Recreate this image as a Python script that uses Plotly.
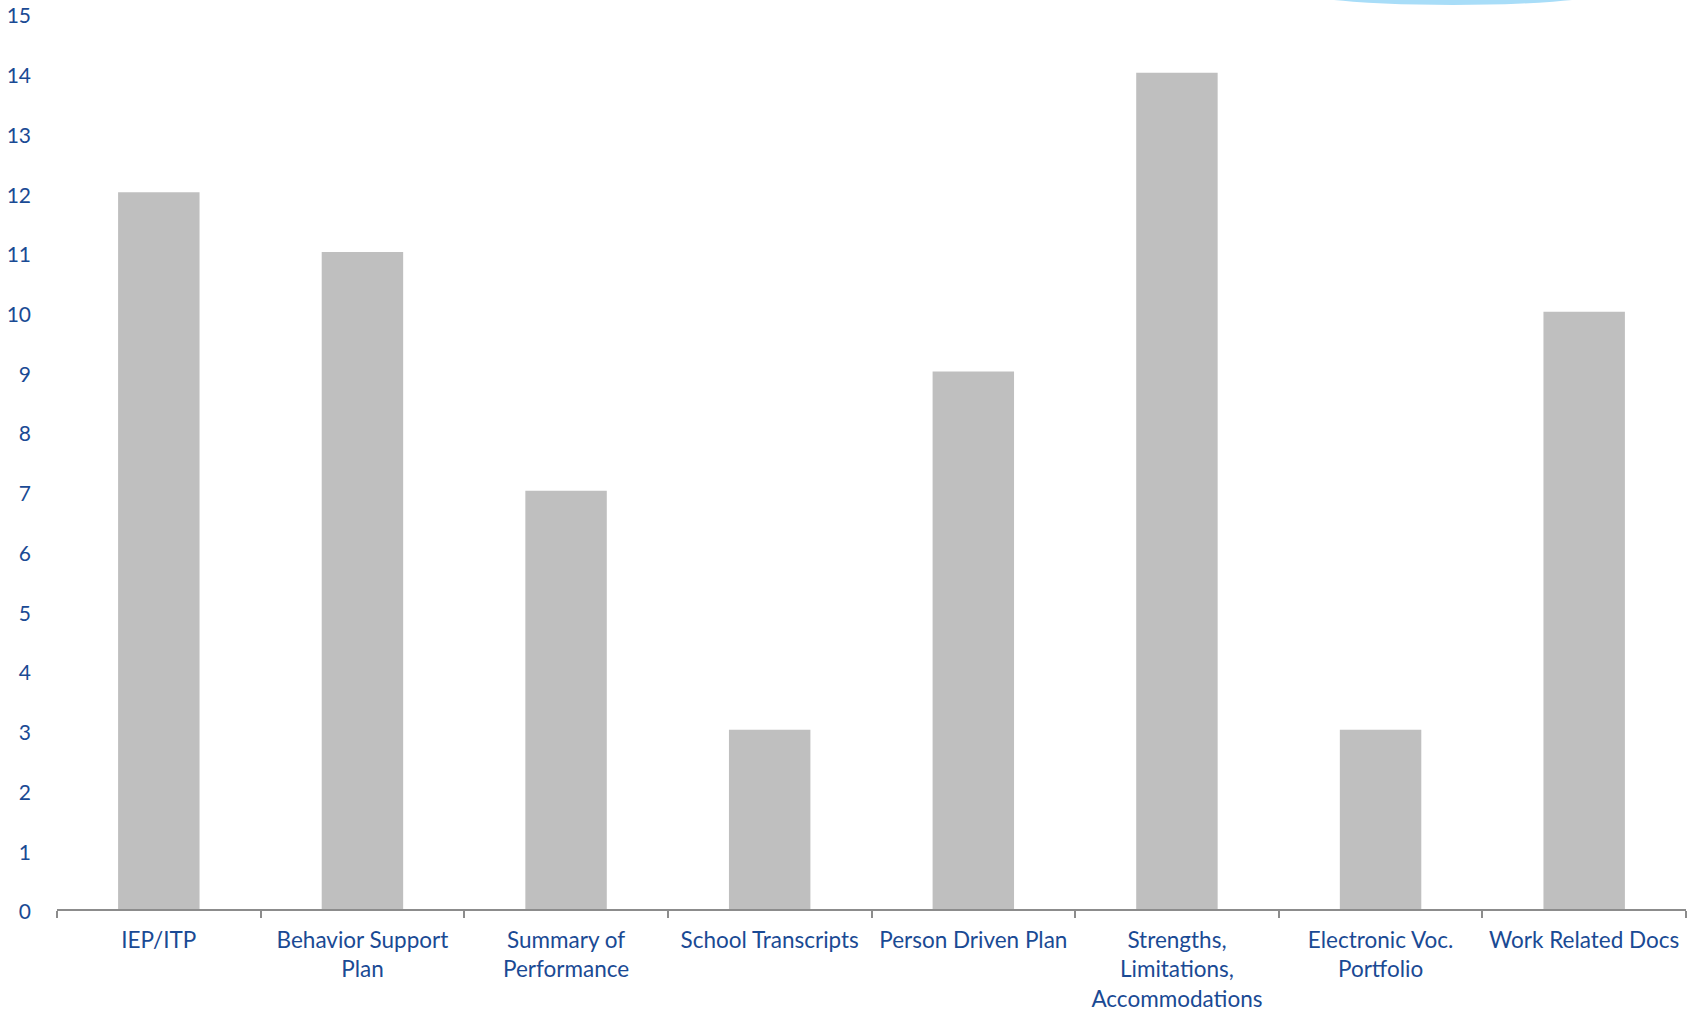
import plotly.graph_objects as go

categories = ["IEP/ITP", "Behavior Support<br>Plan", "Summary of<br>Performance",
              "School Transcripts", "Person Driven Plan",
              "Strengths,<br>Limitations,<br>Accommodations",
              "Electronic Voc.<br>Portfolio", "Work Related Docs"]
values = [12, 11, 7, 3, 9, 14, 3, 10]
y_ticks = list(range(0, 16))

W, H = 1694, 1012
L, R, T, B = 57, 8, 13, 103
pw, ph = W - L - R, H - T - B

def px_x(p):
    return (p - L) / pw

def px_y(p):
    return (H - B - p) / ph

text_color = "#1A4A94"
font = "Lato, 'Open Sans', sans-serif"

fig = go.Figure(go.Bar(x=categories, y=values, width=0.4, marker_color="#BFBFBF",
                       marker_line_width=0))

fig.update_layout(
    width=W, height=H,
    margin=dict(l=L, r=R, t=T, b=B, pad=0, autoexpand=False),
    plot_bgcolor="white", paper_bgcolor="white",
    showlegend=False,
    font=dict(family=font, color=text_color),
    shapes=[dict(type="circle", xref="paper", yref="paper",
                 x0=px_x(1273), x1=px_x(1633), y0=px_y(5), y1=px_y(-35),
                 fillcolor="#A8DDF8", line_width=0, layer="above")],
)
fig.update_xaxes(
    automargin=False, tickangle=0,
    showline=True, linecolor="#8C8C8C", linewidth=2,
    ticks="outside", tickson="boundaries", ticklen=7, tickcolor="#8C8C8C", tickwidth=2,
    ticklabelstandoff=10, ticklabeloverflow="allow",
    tickfont=dict(size=22.5, color=text_color, family=font),
    showgrid=False, zeroline=False,
)
fig.update_yaxes(
    automargin=False,
    range=[0, 15], tickvals=y_ticks, showgrid=False, zeroline=False, showline=False,
    ticks="", ticklabelstandoff=25, ticklabelshift=3, ticklabeloverflow="allow",
    tickfont=dict(size=21, color=text_color, family=font),
)

fig.write_html("out.html")
